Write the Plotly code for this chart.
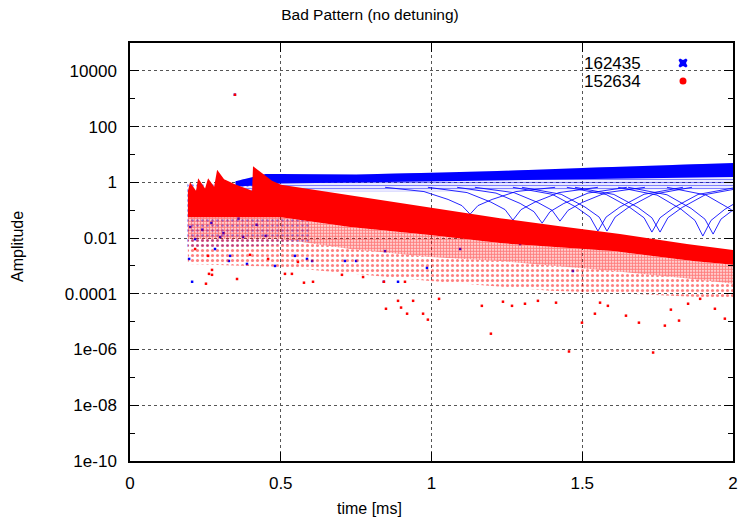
import plotly.graph_objects as go

# ---------------- data ----------------
# time in ms, amplitude (log axis)

# series 162435 (blue): dense band of lines
blue_top_t = [0.35, 0.40, 0.45, 0.50, 0.75, 1.0, 1.25, 1.5, 1.75, 2.0]
blue_top_a = [1.09, 1.5, 2.0, 2.0, 1.93, 2.2, 2.6, 3.3, 3.9, 4.9]
blue_core_bottom_t = [0.35, 0.5, 1.0, 1.5, 2.0]
blue_core_bottom_a = [0.7, 0.9, 1.12, 1.3, 1.55]
blue_lines_bottom_t = [0.35, 1.0, 2.0]
blue_lines_bottom_a = [0.48, 0.48, 0.56]

# blue early cluster region (sparse)
blue_cluster_top_t = [0.19, 0.35, 0.6]
blue_cluster_top_a = [1.0, 0.9, 0.6]
blue_cluster_bottom_t = [0.19, 0.35, 0.6]
blue_cluster_bottom_a = [0.00405, 0.0048, 0.0061]

# blue scalloped arcs (each arc separated by None)
arc_t = [0.846, 0.975, 1.055, 1.101, 1.128, 1.154, 1.201, 1.280, 1.410, None,
         0.988, 1.118, 1.197, 1.244, 1.270, 1.297, 1.343, 1.423, 1.552, None,
         1.085, 1.214, 1.294, 1.340, 1.367, 1.393, 1.439, 1.519, 1.648, None,
         1.144, 1.274, 1.353, 1.400, 1.426, 1.453, 1.499, 1.579, 1.708, None,
         1.270, 1.400, 1.479, 1.526, 1.552, 1.579, 1.625, 1.705, 1.834, None,
         1.300, 1.430, 1.509, 1.556, 1.582, 1.609, 1.655, 1.735, 1.864, None,
         1.449, 1.579, 1.658, 1.705, 1.731, 1.758, 1.804, 1.884, 2.013, None,
         1.476, 1.605, 1.685, 1.731, 1.758, 1.784, 1.831, 1.910, 2.040, None,
         1.619, 1.748, 1.828, 1.874, 1.900, 1.927, 1.973, 2.053, 2.182, None,
         1.652, 1.781, 1.861, 1.907, 1.934, 1.960, 2.007, 2.086, 2.216, None,
         1.781, 1.910, 1.990, 2.037, 2.063, 2.090, 2.136, 2.216, 2.345]
arc_a = [0.663, 0.466, 0.243, 0.146, 0.072, 0.146, 0.243, 0.466, 0.663, None,
         0.663, 0.429, 0.195, 0.105, 0.044, 0.105, 0.195, 0.429, 0.663, None,
         0.663, 0.411, 0.175, 0.0884, 0.0343, 0.0884, 0.175, 0.411, 0.663, None,
         0.663, 0.425, 0.188, 0.099, 0.0405, 0.099, 0.188, 0.425, 0.663, None,
         0.663, 0.373, 0.130, 0.0567, 0.0178, 0.0567, 0.130, 0.373, 0.663, None,
         0.663, 0.373, 0.130, 0.0567, 0.0178, 0.0567, 0.130, 0.373, 0.663, None,
         0.663, 0.367, 0.125, 0.0535, 0.0164, 0.0535, 0.125, 0.367, 0.663, None,
         0.663, 0.367, 0.125, 0.0535, 0.0164, 0.0535, 0.125, 0.367, 0.663, None,
         0.663, 0.349, 0.108, 0.0429, 0.0118, 0.0429, 0.108, 0.349, 0.663, None,
         0.663, 0.358, 0.116, 0.0477, 0.0139, 0.0477, 0.116, 0.358, 0.663, None,
         0.663, 0.352, 0.112, 0.0454, 0.0128, 0.0454, 0.112, 0.352, 0.663]

# blue isolated points
blue_out_t = [0.206, 0.196, 0.332, 0.328, 0.388, 0.481, 0.282, 0.216, 0.299, 0.375,
              0.547, 0.587, 0.604, 0.750, 0.889, 0.846, 0.842, 1.469, 0.985, 0.713,
              1.095, 1.294, 0.348, 0.24, 0.27, 0.31, 0.36, 0.42, 0.45, 0.2]
blue_out_a = [2.7e-4, 1.78e-3, 2.3e-3, 1.51e-3, 1.18e-3, 1e-3, 4.05e-3, 9.2e-3, 0.0109, 0.0109,
              2.3e-3, 1.78e-3, 1.51e-3, 1.51e-3, 2.7e-4, 3.4e-3, 2.7e-4, 6.6e-4, 8.5e-4, 1.51e-3,
              4.05e-3, 6.1e-3, 1390, 0.02, 0.035, 0.015, 0.05, 0.03, 0.012, 0.025]

# series 152634 (red): sawtooth start, then decaying dense band
red_top_t = [0.192, 0.199, 0.219, 0.226, 0.249, 0.259, 0.279, 0.289, 0.312, 0.348, 0.385,
             0.405, 0.408, 0.438, 0.471, 0.501, 0.730, 0.995, 1.227, 1.426, 1.625, 1.847, 2.0]
red_top_a = [0.477, 1.0, 0.5, 1.4, 0.6, 1.4, 0.7, 2.8, 1.3, 0.85, 0.6,
             0.5, 3.8, 2.1, 1.15, 0.82, 0.343, 0.128, 0.0518, 0.0268, 0.0139, 0.0061, 0.00373]
red_core_bottom_t = [0.192, 0.501, 0.730, 0.995, 1.227, 1.602, 1.867, 2.0]
red_core_bottom_a = [0.056, 0.056, 0.0247, 0.0128, 0.0066, 0.00343, 0.0015, 0.0011]
red_mid_bottom_t = [0.192, 0.501, 0.730, 0.995, 1.227, 1.602, 1.867, 2.0]
red_mid_bottom_a = [0.0092, 0.0092, 0.00405, 0.0021, 0.00151, 0.00066, 0.00034, 0.00023]
red_low_bottom_t = [0.192, 0.501, 0.995, 1.393, 1.725, 2.0]
red_low_bottom_a = [0.00118, 0.00092, 0.00029, 0.000128, 0.000092, 0.000066]

# red isolated points
red_out_t = [0.889, 0.849, 0.919, 0.988, 1.025, 1.167, 1.197, 1.237, 1.267, 1.310,
             1.353, 1.413, 1.456, 1.499, 1.542, 1.559, 1.585, 1.645, 1.688, 1.735,
             1.774, 1.794, 1.821, 1.851, 1.891, 1.940, 1.973,
             0.252, 0.355, 0.262, 0.577, 0.514, 0.703, 0.773, 0.842, 0.912, 0.272,
             0.272, 0.259, 0.398, 0.458, 0.557, 0.537, 0.216, 0.607, 0.899, 0.939,
             0.972, 0.348]
red_out_a = [5.6e-5, 2.9e-5, 1.93e-5, 1.18e-5, 6.6e-5, 3.7e-5, 3.7e-6, 5.2e-5, 3.7e-5, 4.4e-5,
             5.6e-5, 4.8e-5, 8.5e-7, 9.2e-6, 1.93e-5, 4.8e-5, 3.7e-5, 1.64e-5, 9.2e-6, 7.8e-7,
             7.2e-6, 2.7e-5, 1.09e-5, 4.4e-5, 6.6e-5, 2.9e-5, 1.28e-5,
             2.3e-4, 3.4e-4, 5.2e-4, 2.5e-4, 5.2e-4, 4.8e-4, 4.0e-4, 2.7e-4, 2.7e-4, 7.2e-4,
             4.8e-4, 2.3e-3, 2.5e-3, 1.78e-3, 1.39e-3, 5.2e-4, 4.05e-3, 2.7e-4, 3.2e-5, 5.6e-5,
             1.93e-5, 1390]

series_names = ["162435", "152634"]
x_tick_vals = [0, 0.5, 1, 1.5, 2]
x_tick_text = ["0", "0.5", "1", "1.5", "2"]
y_tick_vals = [1e4, 1e2, 1, 1e-2, 1e-4, 1e-6, 1e-8, 1e-10]
y_tick_text = ["10000", "100", "1", "0.01", "0.0001", "1e-06", "1e-08", "1e-10"]
y_minor_vals = [1e3, 1e1, 1e-1, 1e-3, 1e-5, 1e-7, 1e-9]

BLUE = "#0000ff"
RED = "#ff0000"


def band(top_t, top_a, bot_t, bot_a):
    return list(top_t) + list(reversed(bot_t)) + [top_t[0]], \
           list(top_a) + list(reversed(bot_a)) + [top_a[0]]


fig = go.Figure()

# ---- blue series ----
bx, by = band(blue_cluster_top_t, blue_cluster_top_a, blue_cluster_bottom_t, blue_cluster_bottom_a)
fig.add_trace(go.Scatter(x=bx, y=by, mode="lines", line=dict(width=0), fill="toself",
                         fillcolor="rgba(0,0,255,0.0)",
                         fillpattern=dict(shape=".", fgcolor=BLUE, size=5, solidity=0.2),
                         hoverinfo="skip", showlegend=False))
bx, by = band(blue_top_t, blue_top_a, blue_lines_bottom_t, blue_lines_bottom_a)
fig.add_trace(go.Scatter(x=bx, y=by, mode="lines", line=dict(width=0), fill="toself",
                         fillcolor="rgba(0,0,255,0.0)",
                         fillpattern=dict(shape="-", fgcolor=BLUE, size=3, solidity=0.45),
                         hoverinfo="skip", showlegend=False))
bx, by = band(blue_top_t, blue_top_a, blue_core_bottom_t, blue_core_bottom_a)
fig.add_trace(go.Scatter(x=bx, y=by, mode="lines", line=dict(width=0), fill="toself",
                         fillcolor=BLUE, hoverinfo="skip", showlegend=False))
fig.add_trace(go.Scatter(x=arc_t, y=arc_a, mode="lines", line=dict(width=1, color="rgba(0,0,255,0.85)"),
                         hoverinfo="skip", showlegend=False))
fig.add_trace(go.Scatter(x=blue_out_t, y=blue_out_a, mode="markers", name=series_names[0],
                         marker=dict(symbol="square", size=2.5, color=BLUE, line=dict(width=0)),
                         showlegend=False))

# ---- red series ----
rx, ry = band(red_mid_bottom_t, red_mid_bottom_a, red_low_bottom_t, red_low_bottom_a)
fig.add_trace(go.Scatter(x=rx, y=ry, mode="lines", line=dict(width=0), fill="toself",
                         fillcolor="rgba(255,0,0,0.0)",
                         fillpattern=dict(shape=".", fgcolor=RED, size=5, solidity=0.3),
                         hoverinfo="skip", showlegend=False))
rx, ry = band(red_core_bottom_t, red_core_bottom_a, red_mid_bottom_t, red_mid_bottom_a)
fig.add_trace(go.Scatter(x=rx, y=ry, mode="lines", line=dict(width=0), fill="toself",
                         fillcolor="rgba(255,0,0,0.0)",
                         fillpattern=dict(shape=".", fgcolor=RED, size=3, solidity=0.7),
                         hoverinfo="skip", showlegend=False))
rx, ry = band(red_top_t, red_top_a, red_core_bottom_t, red_core_bottom_a)
fig.add_trace(go.Scatter(x=rx, y=ry, mode="lines", line=dict(width=0), fill="toself",
                         fillcolor=RED, hoverinfo="skip", showlegend=False))
fig.add_trace(go.Scatter(x=red_out_t, y=red_out_a, mode="markers", name=series_names[1],
                         marker=dict(symbol="square", size=2.5, color=RED, line=dict(width=0)),
                         showlegend=False))

# ---- layout ----
FONT = "Liberation Sans, Arial, Helvetica, sans-serif"
L, R, T, B = 130, 7, 43, 57
W, H = 740, 518
pw, ph = W - L - R, H - T - B


def px_x(p):
    return (p - L) / pw


def px_y(p):
    return (H - B - p) / ph


fig.update_layout(
    width=W, height=H,
    margin=dict(l=L, r=R, t=T, b=B, autoexpand=False),
    plot_bgcolor="white", paper_bgcolor="white",
    font=dict(family=FONT, size=16, color="black"),
    title=dict(text="Bad Pattern (no detuning)", x=0.5, xanchor="center",
               y=1 - 15 / H, yanchor="middle", font=dict(size=15.5, family=FONT)),
    showlegend=False,
)
fig.update_xaxes(range=[0, 2], tickvals=x_tick_vals, ticktext=x_tick_text, automargin=False,
                 showline=True, linecolor="black", linewidth=1.5, mirror="ticks",
                 ticks="inside", ticklen=9, tickwidth=1, tickcolor="black",
                 showgrid=True, gridcolor="#555555", griddash="dot", gridwidth=1,
                 zeroline=False, tickfont=dict(size=17, family=FONT), ticklabelstandoff=6)
fig.update_yaxes(type="log", range=[-10, 5], tickvals=y_tick_vals, ticktext=y_tick_text,
                 automargin=False,
                 showline=True, linecolor="black", linewidth=1.5, mirror="ticks",
                 ticks="inside", ticklen=9, tickwidth=1, tickcolor="black",
                 minor=dict(tickvals=y_minor_vals, ticks="inside", ticklen=5, tickcolor="black",
                            showgrid=False),
                 showgrid=True, gridcolor="#555555", griddash="dot", gridwidth=1,
                 zeroline=False, tickfont=dict(size=17, family=FONT), ticklabelstandoff=8)

fig.add_annotation(text="time [ms]", xref="paper", yref="paper", x=px_x(369), y=px_y(508),
                   xanchor="center", yanchor="middle", showarrow=False, font=dict(size=16, family=FONT))
fig.add_annotation(text="Amplitude", xref="paper", yref="paper", x=px_x(17), y=px_y(247),
                   xanchor="center", yanchor="middle", textangle=-90, showarrow=False,
                   font=dict(size=16, family=FONT))

# legend (text then symbol, gnuplot style)
fig.add_annotation(text=series_names[0], xref="paper", yref="paper", x=px_x(643), y=px_y(63),
                   xanchor="right", yanchor="middle", showarrow=False, font=dict(size=17, family=FONT))
fig.add_annotation(text=series_names[1], xref="paper", yref="paper", x=px_x(643), y=px_y(81),
                   xanchor="right", yanchor="middle", showarrow=False, font=dict(size=17, family=FONT))
fig.add_shape(type="path", xref="paper", yref="paper", xsizemode="pixel", ysizemode="pixel",
              xanchor=px_x(683), yanchor=px_y(63),
              path="M-4.5,-3 L-3,-4.5 L0,-3 L3,-4.5 L4.5,-3 L3,0 L4.5,3 L3,4.5 L0,3 L-3,4.5 L-4.5,3 L-3,0 Z",
              fillcolor=BLUE, line=dict(width=0))
fig.add_shape(type="circle", xref="paper", yref="paper", xsizemode="pixel", ysizemode="pixel",
              xanchor=px_x(683), yanchor=px_y(81), x0=-3.5, x1=3.5, y0=-3.5, y1=3.5,
              fillcolor=RED, line=dict(width=0))

fig.write_html("out.html")
